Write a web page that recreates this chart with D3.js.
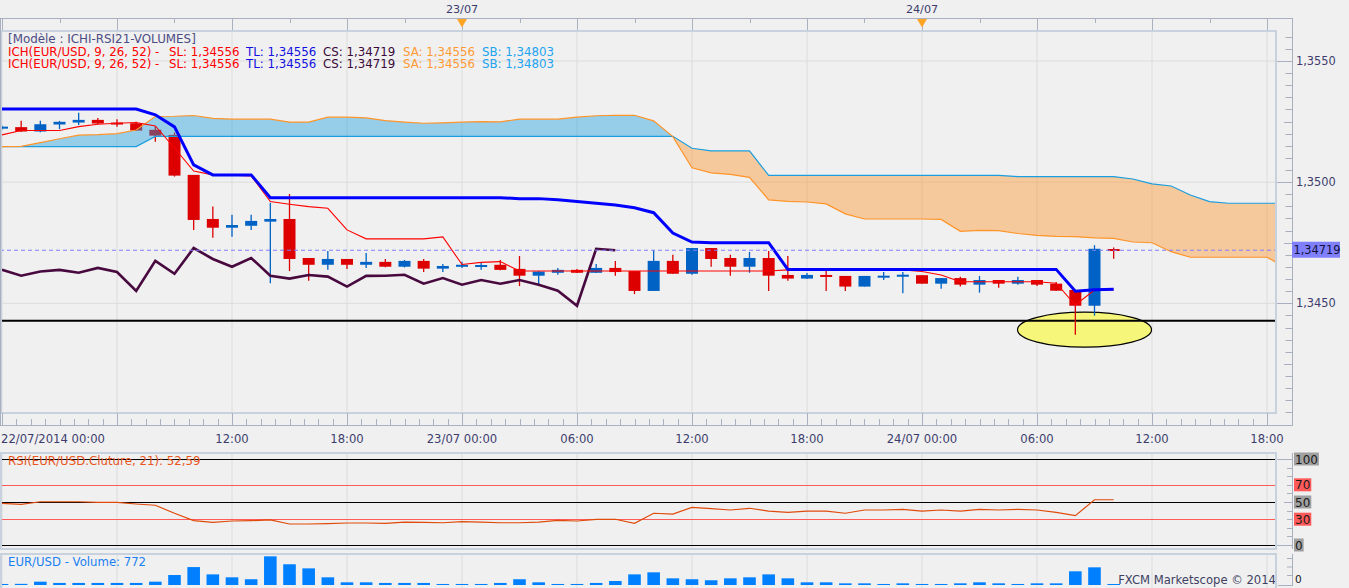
<!DOCTYPE html>
<html><head><meta charset="utf-8">
<script src="https://cdn.jsdelivr.net/npm/d3@7"></script>
<style>
html,body{margin:0;padding:0;background:#f0f0f0;overflow:hidden}
svg{display:block;font-family:"DejaVu Sans",Verdana,sans-serif;font-size:11.6px}
</style></head><body>
<svg id="c" width="1349" height="588"></svg>
<script>
// ---------------- DATA (hourly candles from 22/07/2014 00:00) ----------------
const opens = [1.35221,1.35227,1.35209,1.35238,1.35246,1.35257,1.35246,1.35243,1.35216,1.35195,
1.35030,1.34848,1.34812,1.34820,1.34837,1.34848,1.34687,1.34659,1.34683,1.34659,
1.34671,1.34651,1.34675,1.34643,1.34651,1.34654,1.34659,1.34642,1.34614,1.34626,
1.34638,1.34626,1.34646,1.34633,1.34551,1.34675,1.34622,1.34728,1.34687,1.34651,
1.34687,1.34617,1.34602,1.34617,1.34613,1.34569,1.34610,1.34610,1.34616,1.34581,
1.34604,1.34577,1.34596,1.34581,1.34596,1.34581,1.34555,1.34490,1.34724];
const highs = [1.35233,1.35253,1.35253,1.35253,1.35286,1.35265,1.35260,1.35249,1.35229,1.35205,
1.35030,1.34899,1.34865,1.34865,1.34915,1.34951,1.34687,1.34716,1.34683,1.34708,
1.34683,1.34679,1.34683,1.34662,1.34671,1.34668,1.34679,1.34695,1.34633,1.34646,
1.34642,1.34662,1.34675,1.34633,1.34720,1.34700,1.34728,1.34728,1.34700,1.34712,
1.34716,1.34695,1.34625,1.34638,1.34613,1.34613,1.34629,1.34629,1.34616,1.34604,
1.34610,1.34613,1.34596,1.34610,1.34596,1.34588,1.34555,1.34740,1.34730];
const lows = [1.35217,1.35207,1.35206,1.35219,1.35236,1.35238,1.35229,1.35212,1.35167,1.35023,
1.34803,1.34771,1.34775,1.34803,1.34583,1.34633,1.34593,1.34638,1.34642,1.34646,
1.34649,1.34648,1.34629,1.34629,1.34646,1.34638,1.34636,1.34571,1.34580,1.34618,
1.34625,1.34625,1.34614,1.34538,1.34551,1.34622,1.34618,1.34651,1.34614,1.34626,
1.34551,1.34593,1.34600,1.34551,1.34551,1.34569,1.34596,1.34541,1.34581,1.34560,
1.34569,1.34544,1.34564,1.34577,1.34571,1.34552,1.34370,1.34449,1.34684];
const closes = [1.35229,1.35209,1.35239,1.35249,1.35257,1.35242,1.35239,1.35213,1.35192,1.35027,
1.34844,1.34812,1.34823,1.34840,1.34848,1.34683,1.34659,1.34683,1.34659,1.34671,
1.34651,1.34675,1.34643,1.34654,1.34659,1.34658,1.34638,1.34614,1.34631,1.34638,
1.34626,1.34646,1.34629,1.34551,1.34675,1.34622,1.34728,1.34683,1.34651,1.34687,
1.34614,1.34602,1.34617,1.34610,1.34569,1.34613,1.34614,1.34618,1.34581,1.34604,
1.34577,1.34596,1.34581,1.34596,1.34577,1.34552,1.34490,1.34725,1.34719];
// Ichimoku lines
const tenkan = [1.35195,1.35213,1.35213,1.35213,1.35229,1.35239,1.35243,1.35246,1.35232,1.35141,
1.35046,1.35030,1.35029,1.35026,1.34920,1.34909,1.34899,1.34892,1.34803,1.34766,
1.34766,1.34766,1.34766,1.34774,1.34660,1.34669,1.34672,1.34633,1.34633,1.34633,
1.34633,1.34633,1.34633,1.34633,1.34633,1.34633,1.34633,1.34633,1.34633,1.34633,
1.34633,1.34638,1.34638,1.34638,1.34638,1.34638,1.34638,1.34638,1.34631,1.34617,
1.34589,1.34589,1.34589,1.34589,1.34589,1.34583,1.34493,1.34555,1.34556];
const kijun = [1.35302,1.35302,1.35302,1.35302,1.35302,1.35302,1.35302,1.35302,1.35278,1.35228,
1.35071,1.35030,1.35030,1.35030,1.34936,1.34936,1.34936,1.34936,1.34936,1.34936,
1.34936,1.34936,1.34936,1.34936,1.34936,1.34936,1.34936,1.34932,1.34932,1.34927,
1.34920,1.34913,1.34906,1.34894,1.34874,1.34790,1.34753,1.34750,1.34750,1.34750,
1.34750,1.34640,1.34640,1.34640,1.34640,1.34640,1.34640,1.34640,1.34640,1.34640,
1.34640,1.34640,1.34640,1.34640,1.34640,1.34640,1.34550,1.34556,1.34558];
const senkouA = [1.35147,1.35148,1.35163,1.35179,1.35194,1.35196,1.35200,1.35215,1.35271,1.35272,
1.35275,1.35263,1.35260,1.35260,1.35260,1.35248,1.35248,1.35268,1.35268,1.35265,
1.35254,1.35248,1.35243,1.35245,1.35248,1.35250,1.35249,1.35260,1.35260,1.35260,
1.35268,1.35274,1.35276,1.35276,1.35253,1.35188,1.35059,1.35038,1.35032,1.35020,
1.34927,1.34921,1.34918,1.34910,1.34869,1.34848,1.34848,1.34848,1.34848,1.34846,
1.34797,1.34801,1.34800,1.34788,1.34780,1.34776,1.34775,1.34770,1.34768,1.34753,
1.34750,1.34713,1.34690,1.34690,1.34690,1.34690,1.34690,1.34646];
const senkouB = [1.35147,1.35147,1.35147,1.35147,1.35147,1.35147,1.35147,1.35147,1.35189,1.35189,
1.35189,1.35189,1.35189,1.35189,1.35189,1.35189,1.35189,1.35189,1.35189,1.35189,
1.35189,1.35189,1.35189,1.35189,1.35189,1.35189,1.35189,1.35189,1.35189,1.35189,
1.35189,1.35189,1.35189,1.35189,1.35189,1.35189,1.35140,1.35129,1.35129,1.35129,
1.35028,1.35028,1.35028,1.35028,1.35028,1.35028,1.35028,1.35028,1.35028,1.35028,
1.35028,1.35028,1.35028,1.35023,1.35023,1.35023,1.35023,1.35023,1.35023,1.35013,
1.34993,1.34984,1.34947,1.34920,1.34913,1.34913,1.34913,1.34913];
const chikouShift = 26;
// RSI(21)
const rsi = [48.5,47.3,50.3,50.3,50.3,49.6,49.6,47.7,46.2,36.9,
28.3,26.4,27.9,28.3,29.1,24.4,24.4,24.8,25.6,25.6,
25.2,26.7,26.4,25.9,27.1,26.7,25.9,25.9,26.7,28.7,
27.9,29.9,29.9,25.2,36.9,36.0,43.8,42.2,40.7,42.7,
39.5,38.0,39.5,39.5,36.9,40.7,40.7,41.5,39.5,40.7,
39.5,41.5,40.7,41.5,40.7,38.0,34.1,52.6,52.6];
// Volume
const volume = [800,900,2600,1600,1600,1600,1600,1600,2600,7800,
14000,8300,6000,4500,22400,16200,13000,6000,2100,2100,
1600,1600,1600,800,800,800,1600,4500,2100,800,
800,1600,3100,8300,9900,5200,4500,3700,5200,6000,
8300,5200,2100,2100,1300,1300,800,1300,800,800,
1300,2100,1300,800,1300,1300,10700,13800,772];
// Axis / labels
const priceTicks = [1.3450,1.3500,1.3550];
const timeTickHours = [0,12,18,24,30,36,42,48,54,60,66];
const timeTickLabels = ["22/07/2014 00:00","12:00","18:00","23/07 00:00","06:00","12:00","18:00","24/07 00:00","06:00","12:00","18:00"];
const dayMarkerHours = [24,48];
const dayMarkerLabels = ["23/07","24/07"];
const rsiLevels = [100,70,50,30,0];
const rsiLevelColors = ["#000","#ff5a5a","#000","#ff5a5a","#000"];
const rsiLabelBg = ["#a0a0a0","#ff5a5a","#a0a0a0","#ff5a5a","#a0a0a0"];
const supportLevel = 1.34428;
const lastClose = 1.34719;
const ellipseCenter = {hour:56.48, price:1.34391};
const legendHeader = "[Modèle : ICHI-RSI21-VOLUMES]";
const legendParts = [
  {t:"ICH(EUR/USD, 9, 26, 52) -", c:"#ff0000"},
  {t:"SL: 1,34556", c:"#ff0000"},
  {t:"TL: 1,34556", c:"#1010e0"},
  {t:"CS: 1,34719", c:"#3a0a3a"},
  {t:"SA: 1,34556", c:"#ff9a33"},
  {t:"SB: 1,34803", c:"#22a4f0"}];
const legendX = [8,169,246,323,403,482];
const rsiTitle = "RSI(EUR/USD.Cluture, 21): 52,59";
const volTitle = "EUR/USD - Volume: 772";
const copyright = "FXCM Marketscope © 2014";

// ---------------- SCALES ----------------
const HOUR = 3600000, t0 = Date.UTC(2014,6,22,0,0);
const tAt = h => new Date(t0 + h*HOUR);
const x = d3.scaleUtc().domain([tAt(0), tAt(66)]).range([2, 1267]);
const xh = h => x(tAt(h));
const y = d3.scaleLinear().domain([1.3450,1.3550]).range([303.3,61]);
const yR = d3.scaleLinear().domain([0,100]).range([545,459]);
const yV = d3.scaleLinear().domain([0,25000]).range([585,553]);
const PR = 1276; // plot right edge
const fmtP = v => d3.format(".4f")(v).replace(".", ",");
const fmtP5 = v => d3.format(".5f")(v).replace(".", ",");

const svg = d3.select("#c");
svg.append("rect").attr("width",1349).attr("height",588).attr("fill","#f0f0f0");
const defs = svg.append("defs");
function clip(id,x0,y0,w,h){defs.append("clipPath").attr("id",id).append("rect").attr("x",x0).attr("y",y0).attr("width",w).attr("height",h);}
clip("cm",0,31,PR,382); clip("cr",0,453,PR,96); clip("cv",0,554,PR,34);

const gridCol = "#dcdcdc", frameCol="#c8d2de", rulerCol="#a9b1c0", txtCol="#3c3c6e";
const gridHours = d3.range(0,67,6);

// ---------------- MAIN PANEL ----------------
const gm = svg.append("g").attr("clip-path","url(#cm)");
gm.selectAll(".vg").data(gridHours).join("line").attr("x1",d=>xh(d)).attr("x2",d=>xh(d)).attr("y1",31).attr("y2",413).attr("stroke",gridCol);
gm.selectAll(".hg").data(priceTicks).join("line").attr("x1",0).attr("x2",PR).attr("y1",d=>y(d)).attr("y2",d=>y(d)).attr("stroke",gridCol);

// ellipse annotation
gm.append("ellipse").attr("cx",xh(ellipseCenter.hour)).attr("cy",y(ellipseCenter.price)).attr("rx",67).attr("ry",17.5)
  .attr("fill","#f6f67a").attr("stroke","#000").attr("stroke-width",1.2);
// support line
gm.append("line").attr("x1",0).attr("x2",PR).attr("y1",y(supportLevel)).attr("y2",y(supportLevel)).attr("stroke","#000").attr("stroke-width",2);

// candles
const candles = opens.map((o,i)=>({h:i,o,hi:highs[i],lo:lows[i],c:closes[i]}));
const cg = gm.selectAll(".cd").data(candles).join("g");
const colOf = d => d.c>=d.o ? "#0062c4" : "#dc0000";
cg.append("line").attr("x1",d=>xh(d.h)).attr("x2",d=>xh(d.h)).attr("y1",d=>y(d.hi)).attr("y2",d=>y(d.lo)).attr("stroke",colOf).attr("stroke-width",1.3);
cg.append("rect").attr("x",d=>xh(d.h)-6).attr("width",12)
  .attr("y",d=>y(Math.max(d.o,d.c))).attr("height",d=>Math.max(2,Math.abs(y(d.o)-y(d.c)))).attr("fill",colOf);

// cloud
const cloudPts=[];
for(let i=0;i<senkouA.length;i++){
  const a=senkouA[i], b=senkouB[i];
  if(i>0){const a0=senkouA[i-1],b0=senkouB[i-1],d0=a0-b0,d1=a-b;
    if(d0*d1<0){const f=d0/(d0-d1);cloudPts.push({h:i-1+f,a:a0+(a-a0)*f,b:b0+(b-b0)*f});}}
  cloudPts.push({h:i,a,b});
}
gm.append("path").attr("d",d3.area().x(d=>xh(d.h)).y0(d=>y(d.b)).y1(d=>y(Math.max(d.a,d.b)))(cloudPts)).attr("fill","rgba(26,157,223,0.42)");
gm.append("path").attr("d",d3.area().x(d=>xh(d.h)).y0(d=>y(d.a)).y1(d=>y(Math.max(d.a,d.b)))(cloudPts)).attr("fill","rgba(251,153,53,0.45)");
const ln = d3.line().x((d,i)=>xh(i)).y(d=>y(d));
gm.append("path").attr("d",ln(senkouB)).attr("fill","none").attr("stroke","#1a9ee0").attr("stroke-width",1.2);
gm.append("path").attr("d",ln(senkouA)).attr("fill","none").attr("stroke","#ff9429").attr("stroke-width",1.2);
// chikou span = closes plotted 26 periods back
const chikou = closes.slice(chikouShift);
gm.append("path").attr("d",ln(chikou)).attr("fill","none").attr("stroke","#48093f").attr("stroke-width",2.6);
gm.append("path").attr("d",ln(tenkan)).attr("fill","none").attr("stroke","#ff0000").attr("stroke-width",1.1);
gm.append("path").attr("d",ln(kijun)).attr("fill","none").attr("stroke","#0000ff").attr("stroke-width",3);
// last close dashed line
gm.append("line").attr("x1",0).attr("x2",PR).attr("y1",y(lastClose)).attr("y2",y(lastClose)).attr("stroke","#7f7fff").attr("stroke-dasharray","4,3");

// legend
svg.append("text").attr("x",8).attr("y",43).attr("fill","#4c4c84").attr("font-size",11.9).text(legendHeader);
[56,68].forEach(by=>{
  legendParts.forEach((p,i)=>svg.append("text").attr("x",legendX[i]).attr("y",by).attr("fill",p.c).attr("font-size",11.8).text(p.t));
});

// frames and rulers
svg.append("rect").attr("x",1).attr("y",31).attr("width",PR-1).attr("height",382).attr("fill","none").attr("stroke",frameCol).attr("stroke-width",2);
svg.append("line").attr("x1",0).attr("x2",1292).attr("y1",18.5).attr("y2",18.5).attr("stroke",rulerCol);
svg.append("line").attr("x1",0).attr("x2",1292).attr("y1",425.5).attr("y2",425.5).attr("stroke",rulerCol);
svg.append("line").attr("x1",0.5).attr("x2",0.5).attr("y1",18).attr("y2",426).attr("stroke",rulerCol);
svg.append("line").attr("x1",1292.5).attr("x2",1292.5).attr("y1",18).attr("y2",426).attr("stroke",rulerCol);
// top ruler ticks (3h)
const topT = d3.range(0,67,3).filter(h=>xh(h)<PR);
svg.selectAll(".tt").data(topT).join("line").attr("x1",d=>Math.round(xh(d))+0.5).attr("x2",d=>Math.round(xh(d))+0.5)
  .attr("y1",19).attr("y2",d=>d%6===0?30:23).attr("stroke",rulerCol);
// bottom ruler ticks (45 min)
const botT = d3.range(0,66.01,0.75).filter(h=>xh(h)<PR);
svg.selectAll(".bt").data(botT).join("line").attr("x1",d=>Math.round(xh(d))+0.5).attr("x2",d=>Math.round(xh(d))+0.5)
  .attr("y1",d=>(Math.abs(d%6)<1e-6)?413:419).attr("y2",425).attr("stroke",rulerCol);
// day markers
dayMarkerHours.forEach((h,i)=>{
  const cx=xh(h);
  svg.append("text").attr("x",cx).attr("y",13).attr("text-anchor","middle").attr("fill",txtCol).attr("font-size",11.2).text(dayMarkerLabels[i]);
  svg.append("path").attr("d",`M${cx-5},19 L${cx+5},19 L${cx},27.5 Z`).attr("fill","#ffa526");
});
// price axis
const minor = d3.range(0,33).map(k=>+(1.3400+k*0.0005).toFixed(4)).filter(v=>y(v)>33&&y(v)<413);
svg.selectAll(".pt").data(minor).join("line").attr("x1",d=>{const k=Math.round(d*10000);return k%50===0?1277:(k%25===0?1284:1285.5);})
  .attr("x2",1292).attr("y1",d=>Math.round(y(d))+0.5).attr("y2",d=>Math.round(y(d))+0.5).attr("stroke",rulerCol);
const pa = svg.append("g").attr("transform","translate(1292,0)").call(d3.axisRight(y).tickValues(priceTicks).tickFormat(fmtP).tickSize(0).tickPadding(4));
pa.select(".domain").remove();
pa.selectAll("text").attr("fill",txtCol).attr("font-size",11.4).attr("font-family","DejaVu Sans");
// last price tag
svg.append("rect").attr("x",1292).attr("y",y(lastClose)-8.5).attr("width",48).attr("height",16).attr("fill","#8080fc");
svg.append("text").attr("x",1293.5).attr("y",y(lastClose)+4).attr("fill","#10103a").attr("font-size",11.4).text(fmtP5(lastClose));
// time axis labels
timeTickHours.forEach((h,i)=>{
  svg.append("text").attr("x",i===0?1:xh(h)).attr("y",443).attr("text-anchor",i===0?"start":"middle").attr("fill",txtCol).text(timeTickLabels[i]);
});

// ---------------- RSI PANEL ----------------
const gr = svg.append("g").attr("clip-path","url(#cr)");
gr.selectAll("line.vg").data(gridHours).join("line").attr("x1",d=>xh(d)).attr("x2",d=>xh(d)).attr("y1",453).attr("y2",549).attr("stroke",gridCol);
gr.selectAll("line.lv").data(rsiLevels).join("line").attr("x1",0).attr("x2",PR).attr("y1",d=>Math.round(yR(d))+0.5).attr("y2",d=>Math.round(yR(d))+0.5)
  .attr("stroke",(d,i)=>rsiLevelColors[i]).attr("stroke-width",1.2);
gr.append("path").attr("d",d3.line().x((d,i)=>xh(i)).y(d=>yR(d))(rsi)).attr("fill","none").attr("stroke","#e04a0a").attr("stroke-width",1.2);
svg.append("text").attr("x",8).attr("y",465).attr("fill","#e8561e").attr("font-size",11.8).text(rsiTitle);
svg.append("rect").attr("x",1).attr("y",453).attr("width",PR-1).attr("height",96).attr("fill","none").attr("stroke",frameCol).attr("stroke-width",2);
svg.append("line").attr("x1",1292.5).attr("x2",1292.5).attr("y1",453).attr("y2",549).attr("stroke",rulerCol);
svg.selectAll(".rt").data(d3.range(0,101,10)).join("line").attr("x1",d=>(d===0||d===100)?1277:(d===50?1284:1287)).attr("x2",1292)
  .attr("y1",d=>Math.round(yR(d))+0.5).attr("y2",d=>Math.round(yR(d))+0.5).attr("stroke",rulerCol);
rsiLevels.forEach((v,i)=>{
  const g=svg.append("g");
  const t=g.append("text").attr("x",1295).attr("y",yR(v)+4.5).attr("fill","#1a1a1a").attr("font-size",12).text(v);
  const bb=t.node().getBBox();
  g.insert("rect","text").attr("x",1294).attr("y",yR(v)-6.5).attr("width",bb.width+2).attr("height",13).attr("fill",rsiLabelBg[i]);
});

// ---------------- VOLUME PANEL ----------------
const gv = svg.append("g").attr("clip-path","url(#cv)");
gv.selectAll("line.vg").data(gridHours).join("line").attr("x1",d=>xh(d)).attr("x2",d=>xh(d)).attr("y1",554).attr("y2",588).attr("stroke",gridCol);
gv.selectAll("rect.vb").data(volume).join("rect").attr("x",(d,i)=>xh(i)-6.3).attr("width",12.6)
  .attr("y",d=>yV(d)).attr("height",d=>yV(0)-yV(d)).attr("fill","#0080ff");
svg.append("text").attr("x",8).attr("y",566).attr("fill","#1a80f2").attr("font-size",11.7).text(volTitle);
svg.append("text").attr("x",1276).attr("y",584).attr("text-anchor","end").attr("fill","#404062").text(copyright);
svg.append("rect").attr("x",1).attr("y",554).attr("width",PR-1).attr("height",40).attr("fill","none").attr("stroke",frameCol).attr("stroke-width",2);
svg.append("line").attr("x1",1292.5).attr("x2",1292.5).attr("y1",554).attr("y2",586).attr("stroke",rulerCol);
const va = svg.append("g").attr("transform","translate(1292,0)").call(d3.axisRight(yV).tickValues([0]).tickFormat(d3.format("d")).tickSize(0).tickPadding(3));
va.select(".domain").remove();
va.selectAll("text").attr("fill","#1a1a1a").attr("font-size",10.5).attr("font-family","DejaVu Sans").attr("dy","-0.2em");
svg.selectAll(".vt").data([558,566.5,575,585]).join("line").attr("x1",(d,i)=>i===3?1278:1287).attr("x2",1292).attr("y1",d=>d+0.5).attr("y2",d=>d+0.5).attr("stroke",rulerCol);
</script></body></html>
